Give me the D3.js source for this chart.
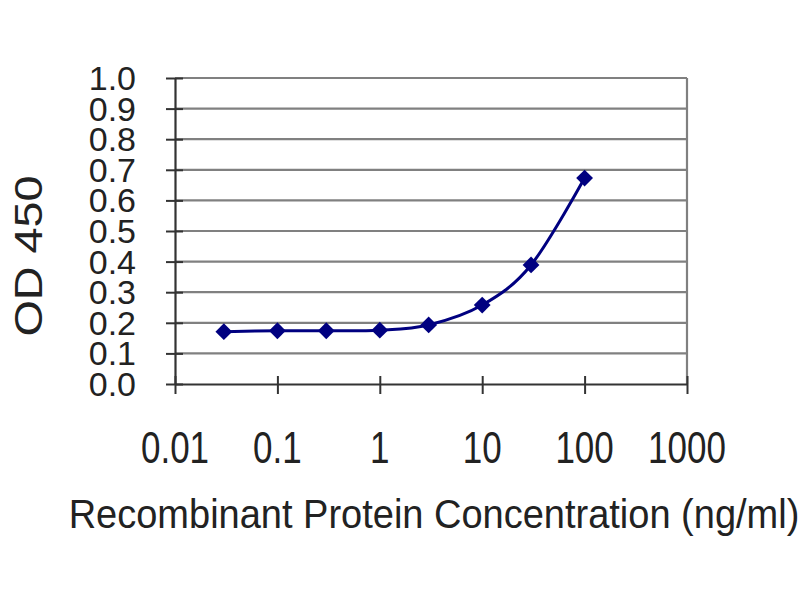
<!DOCTYPE html>
<meta charset="utf-8">
<style>
  body { margin: 0; background: #fff; }
  text { font-family: Arial, "Liberation Sans", sans-serif; fill: #222; }
</style>
<body>
<script src="https://cdn.jsdelivr.net/npm/d3@7"></script>
<script>

var width = 800,
    height = 600;

// concentrations (ng/ml) and OD 450 readings
var concentrations = [0.03, 0.1, 0.3, 1, 3, 10, 30, 100];
var od450 = [0.171, 0.174, 0.174, 0.176, 0.193, 0.258, 0.389, 0.673];

var xTicks = [0.01, 0.1, 1, 10, 100, 1000];
var xTickLabels = ["0.01", "0.1", "1", "10", "100", "1000"];
var yTicks = [0, 0.1, 0.2, 0.3, 0.4, 0.5, 0.6, 0.7, 0.8, 0.9, 1.0];

var plotLeft = 175, plotRight = 687, plotTop = 78, plotBottom = 384;

var x = d3.scaleLog().domain([0.01, 1000]).range([plotLeft, plotRight]);
var y = d3.scaleLinear().domain([0, 1]).range([plotBottom, plotTop]);

var svg = d3.select("body").append("svg")
    .attr("width", width)
    .attr("height", height);

// gridlines
svg.append("g")
  .selectAll("line")
  .data(yTicks.slice(1))
  .enter().append("line")
    .attr("x1", plotLeft).attr("x2", plotRight)
    .attr("y1", d => y(d)).attr("y2", d => y(d))
    .attr("stroke", "#808080")
    .attr("stroke-width", 2.2);

// right border
svg.append("line")
    .attr("x1", plotRight).attr("x2", plotRight)
    .attr("y1", plotTop).attr("y2", plotBottom)
    .attr("stroke", "#808080")
    .attr("stroke-width", 2.2);

// axes
var xAxis = d3.axisBottom(x).tickValues(xTicks).tickSize(0).tickFormat("");
var yAxis = d3.axisLeft(y).tickValues(yTicks).tickSize(0).tickFormat("");

svg.append("g")
    .attr("transform", "translate(0," + plotBottom + ")")
    .call(xAxis)
    .call(g => g.select(".domain").attr("stroke", "#333").attr("stroke-width", 2.2))
    .call(g => g.selectAll(".tick line").attr("y1", -8).attr("y2", 10)
      .attr("stroke", "#333").attr("stroke-width", 2));

svg.append("g")
    .attr("transform", "translate(" + plotLeft + ",0)")
    .call(yAxis)
    .call(g => g.select(".domain").attr("stroke", "#333").attr("stroke-width", 2.2))
    .call(g => g.selectAll(".tick line").attr("x1", -9).attr("x2", 8)
      .attr("stroke", "#333").attr("stroke-width", 2));

// tick labels
svg.append("g")
  .selectAll("text")
  .data(xTicks)
  .enter().append("text")
    .attr("transform", d => "translate(" + x(d) + ",463) scale(1,1.25)")
    .attr("text-anchor", "middle")
    .style("font-size", "35px")
    .text((d, i) => xTickLabels[i]);

svg.append("g")
  .selectAll("text")
  .data(yTicks)
  .enter().append("text")
    .attr("transform", d => "translate(136," + (y(d) + 12) + ")")
    .attr("text-anchor", "end")
    .style("font-size", "34px")
    .text(d => d.toFixed(1));

// axis titles
svg.append("text")
    .attr("transform", "translate(434,528) scale(1,1.05)")
    .attr("text-anchor", "middle")
    .style("font-size", "38px")
    .text("Recombinant Protein Concentration (ng/ml)");

svg.append("text")
    .attr("transform", "translate(42,256) rotate(-90) scale(1.2,1)")
    .attr("text-anchor", "middle")
    .style("font-size", "39px")
    .text("OD 450");

// data line
var pts = concentrations.map((c, i) => [x(c), y(od450[i])]);

svg.append("path")
    .datum(pts)
    .attr("fill", "none")
    .attr("stroke", "#000080")
    .attr("stroke-width", 3)
    .attr("d", d3.line().curve(d3.curveCardinal.tension(0)));

svg.append("g")
  .selectAll("path")
  .data(pts)
  .enter().append("path")
    .attr("transform", d => "translate(" + d[0] + "," + d[1] + ")")
    .attr("d", d3.symbol().type(d3.symbolDiamond2).size(180))
    .attr("fill", "#000080");

</script>
